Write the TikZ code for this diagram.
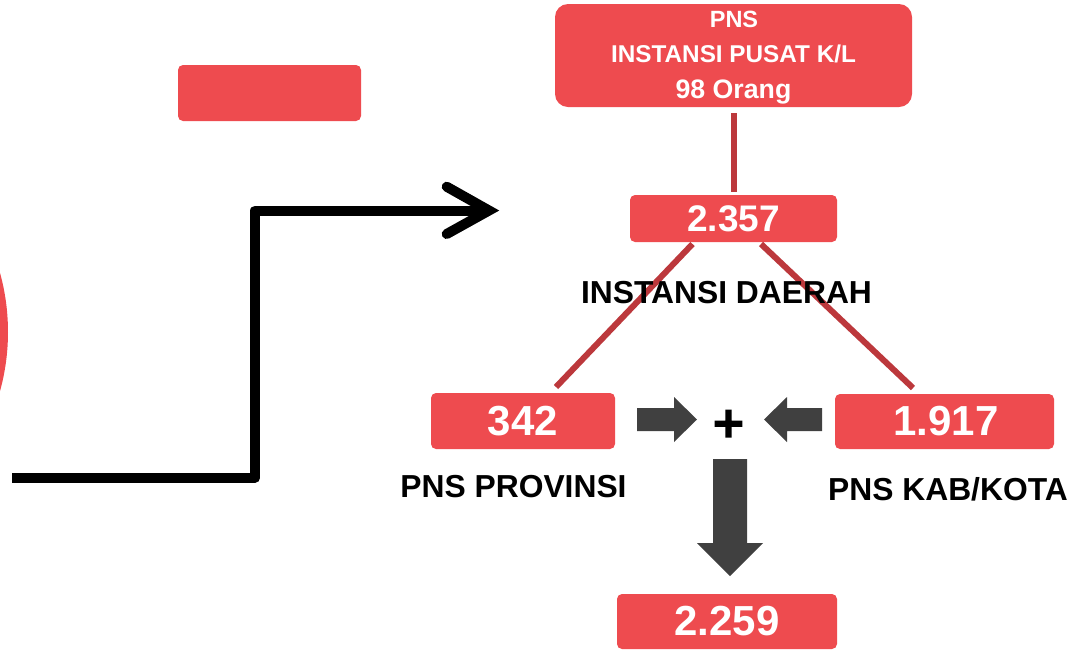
\documentclass[tikz,border=0pt]{standalone}
\usepackage{fontspec}
\setmainfont{Liberation Sans}
\newfontfamily\plusfont[FakeBold=5]{Liberation Sans}
\definecolor{boxred}{HTML}{EE4B4F}
\definecolor{linkred}{HTML}{BC383C}
\definecolor{blockgrey}{HTML}{404040}
\tikzset{
  redbox/.style={fill=boxred,text=white,inner sep=0pt,outer sep=0pt,align=center,font=\bfseries},
  smallr/.style={rounded corners=5pt},
  link/.style={draw=linkred,line width=6pt},
  blockarrow/.style={fill=blockgrey,draw=none},
  caption/.style={anchor=base,inner sep=0pt,text=black,font=\fontsize{31.8}{36}\selectfont\bfseries},
  bignum/.style={font=\fontsize{42}{44}\selectfont\bfseries}
}
\begin{document}
\begin{tikzpicture}[x=1pt,y=-1pt]
\useasboundingbox (0,0) rectangle (1077,649);
% partial circle at the left edge
\begin{scope}
\clip (0,0) rectangle (1077,649);
\fill[boxred] (-213.6,332) circle (221.6);
\end{scope}
% boxes
\node[redbox,minimum width=183pt,minimum height=56pt,smallr] (empty) at (269.5,93) {};
\node[redbox,minimum width=357pt,minimum height=103pt,rounded corners=13pt] (top) at (733.5,55.5) {};
\node[anchor=base,inner sep=0pt,text=white,font=\fontsize{23.5}{28}\selectfont\bfseries] (topA) at (734,27) {PNS};
\node[anchor=base,inner sep=0pt,text=white,font=\fontsize{24.3}{28}\selectfont\bfseries] (topB) at (733.5,62) {INSTANSI PUSAT K/L};
\node[anchor=base,inner sep=0pt,text=white,font=\fontsize{26.7}{28}\selectfont\bfseries] (topC) at (733.5,98) {98 Orang};
\node[redbox,minimum width=207pt,minimum height=47pt,smallr,font=\fontsize{37}{40}\selectfont\bfseries] (mid) at (733.5,218.5) {2.357};
\node[redbox,minimum width=184pt,minimum height=56pt,smallr,bignum] (prov) at (523,421) {342};
\node[redbox,minimum width=219pt,minimum height=55pt,smallr,bignum] (kab) at (944.5,421.5) {};
\node[anchor=center,inner sep=0pt,text=white,bignum] (kabT) at (946,421.5) {1.917};
\node[redbox,minimum width=220pt,minimum height=55pt,smallr,bignum] (sum) at (727,621.5) {2.259};
% connectors
\coordinate (midL) at (692.5,244);
\coordinate (midR) at (761,244);
\coordinate (provTop) at (556,387);
\coordinate (kabTop) at (913,388);
\draw[link,shorten >=3pt,shorten <=6pt] (top.south -| mid.north) -- (mid.north);
\draw[link] (midL) -- (provTop);
\draw[link] (midR) -- (kabTop);
% labels
\node[caption] (lblDaerah) at (726.5,303) {INSTANSI DAERAH};
\node[caption] (lblProv) at (513.5,497) {PNS PROVINSI};
\node[caption] (lblKab) at (948,500) {PNS KAB/KOTA};
\node[anchor=center,inner sep=0pt,font=\fontsize{52}{52}\plusfont] (plus) at (728.5,426) {+};
% block arrows
\fill[blockarrow] (637,408) -- (674,408) -- (674,397) -- (697,419.5) -- (674,442) -- (674,431) -- (637,431) -- cycle;
\fill[blockarrow] (822,408) -- (787,408) -- (787,397) -- (764,419.5) -- (787,442) -- (787,431) -- (822,431) -- cycle;
\fill[blockarrow] (713,459) -- (747,459) -- (747,543) -- (763,543) -- (730,576) -- (697,543) -- (713,543) -- cycle;
% elbow arrow
\coordinate (elbowStart) at (12,477.5);
\coordinate (elbowA) at (255.3,477.5);
\coordinate (elbowB) at (255.3,210.5);
\coordinate (elbowEnd) at (489,210.5);
\draw[line width=10pt,line join=round] (elbowStart) -- (elbowA) -- (elbowB) -- (elbowEnd);
\draw[line width=10pt,line cap=round,line join=miter,miter limit=10] (446.7,186.7) -- (elbowEnd) -- (446.7,234);
\end{tikzpicture}
\end{document}
